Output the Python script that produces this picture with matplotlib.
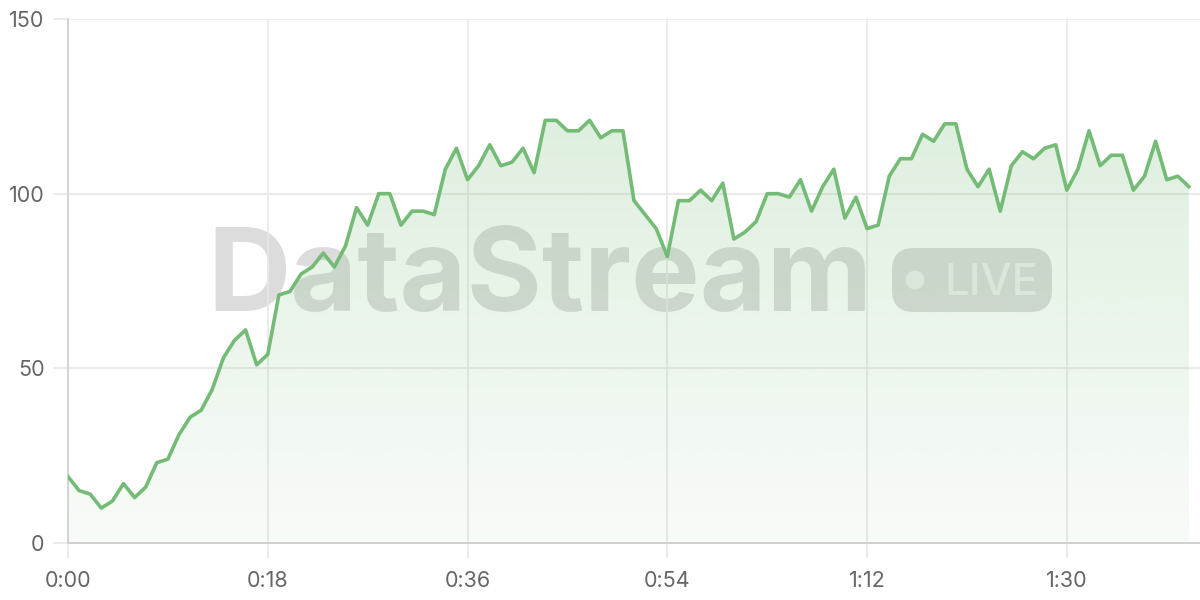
import matplotlib.pyplot as plt
from matplotlib.patches import FancyBboxPatch, Circle
import numpy as np

# values, one per second (0:00 .. 1:41)
values = [19, 15, 14, 10, 12, 17, 13, 16, 23, 24,
          31, 36, 38, 44, 53, 58, 61, 51, 54, 71,
          72, 77, 79, 83, 79, 85, 96, 91, 100, 100,
          91, 95, 95, 94, 107, 113, 104, 108, 114, 108,
          109, 113, 106, 121, 121, 118, 118, 121, 116, 118,
          118, 98, 94, 90, 82, 98, 98, 101, 98, 103,
          87, 89, 92, 100, 100, 99, 104, 95, 102, 107,
          93, 99, 90, 91, 105, 110, 110, 117, 115, 120,
          120, 107, 102, 107, 95, 108, 112, 110, 113, 114,
          101, 107, 118, 108, 111, 111, 101, 105, 115, 104,
          105, 102]
seconds = list(range(len(values)))
xtick_pos = [0, 18, 36, 54, 72, 90]
xtick_labels = ['0:00', '0:18', '0:36', '0:54', '1:12', '1:30']
ytick_pos = [0, 50, 100, 150]

green = '#74bb76'
grid_c = '#e8e8e8'
text_c = '#666666'
wm_c = '#808080'

fig = plt.figure(figsize=(12, 6), dpi=100)

# watermark layer in pixel coordinates, under the chart
wm = fig.add_axes([0, 0, 1, 1], zorder=0)
wm.set_xlim(0, 1200)
wm.set_ylim(600, 0)
wm.axis('off')
wm.text(540, 311, 'DataStream', fontsize=83, family='Inter', weight='bold',
        color=wm_c, alpha=0.27, ha='center', va='baseline')
wm.add_patch(FancyBboxPatch((892, 248), 160, 64,
                            boxstyle='round,pad=0,rounding_size=22',
                            fc=wm_c, ec='none', alpha=0.27))
wm.add_patch(Circle((915, 280), 9.5, fc='white', ec='none', alpha=0.55))
wm.text(991, 295, 'LIVE', fontsize=31.5, family='Inter', weight='medium',
        color='white', alpha=0.55, ha='center', va='baseline')

ax = fig.add_axes([68/1200, 57/600, 1132/1200, 524/600], zorder=1)
ax.patch.set_alpha(0)
ax.set_xlim(0, 102)
ax.set_ylim(0, 150)

# gradient fill under the line
poly = ax.fill_between(seconds, values, 0, color='none', lw=0)
grad = np.zeros((256, 1, 4))
grad[:, 0, :3] = np.array([116, 187, 118]) / 255
grad[:, 0, 3] = np.linspace(0.28, 0.05, 256)
im = ax.imshow(grad, extent=[0, seconds[-1], 0, 150], aspect='auto',
               origin='upper', zorder=1)
im.set_clip_path(poly.get_paths()[0], transform=ax.transData)

ax.plot(seconds, values, color=green, lw=2.6, zorder=4)

ax.set_xticks(xtick_pos)
ax.set_xticklabels(xtick_labels)
ax.set_yticks(ytick_pos)
ax.grid(True, color=grid_c, lw=1.2, zorder=0)
ax.set_axisbelow(True)
for s in ['top', 'right']:
    ax.spines[s].set_visible(False)
ax.spines['left'].set_color('#d4d4d4')
ax.spines['bottom'].set_color('#d0d0d0')
ax.spines['left'].set_linewidth(1.4)
ax.spines['bottom'].set_linewidth(1.4)
ax.tick_params(axis='both', colors=grid_c, labelcolor=text_c, labelsize=15.5,
               length=11, width=1.2)
ax.tick_params(axis='y', pad=6)
ax.tick_params(axis='x', pad=9)
for lab in ax.get_xticklabels() + ax.get_yticklabels():
    lab.set_family('Inter')

fig.savefig('out.png', dpi=100)
